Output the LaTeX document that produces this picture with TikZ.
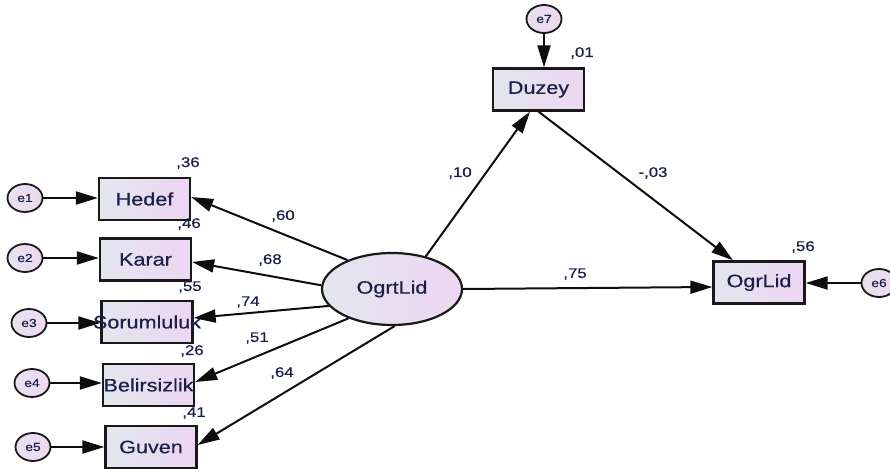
\documentclass[tikz,border=0pt]{standalone}
\usepackage{fontspec}
\setmainfont[FakeStretch=1.2,FakeBold=0.5]{Liberation Sans}
\usetikzlibrary{arrows.meta,shapes.geometric,calc}
\definecolor{ink}{HTML}{1A2048}
\definecolor{boxL}{HTML}{E3E6EE}
\definecolor{boxR}{HTML}{EDD6F2}
\definecolor{errL}{HTML}{E6E2EE}
\definecolor{errR}{HTML}{EED8F2}
\tikzset{
  obs/.style={draw=black!90, line width=2.3pt, minimum width=91pt, minimum height=42pt,
    inner sep=0pt, left color=boxL, right color=boxR},
  lat/.style={ellipse, draw=black!90, line width=2.2pt, minimum width=140pt, minimum height=72pt,
    inner sep=0pt, left color=boxL, right color=boxR, text=ink,
    font=\fontsize{18}{20}\selectfont},
  err/.style={ellipse, draw=black!90, line width=1.8pt, minimum width=35pt, minimum height=28pt,
    inner sep=0pt, left color=errL, right color=errR, text=ink,
    font=\fontsize{11.5}{12}\selectfont},
  regr/.style={line width=2pt, draw=black!95, -{Triangle[length=22pt,width=13pt]}},
  coef/.style={font=\fontsize{14}{16}\selectfont, text=ink, inner sep=0pt},
  boxlab/.style={font=\fontsize{18}{20}\selectfont, text=ink, inner sep=0pt}
}
\begin{document}
\begin{tikzpicture}[x=1pt,y=-1pt]
\useasboundingbox (0,0) rectangle (890,473);

% observed indicators
\node[obs, label={[boxlab]center:Hedef}]       (hedef) at (144.5,199) {};
\node[obs, label={[boxlab]center:Karar}]       (karar) at (145.5,259.5) {};
\node[obs, label={[boxlab]center:Sorumluluk}]  (sorum) at (147,322) {};
\node[obs, label={[boxlab]center:Belirsizlik}] (belir) at (148.5,385) {};
\node[obs, label={[boxlab]center:Guven}]       (guven) at (151,447) {};
\node[obs, label={[boxlab]center:Duzey}]       (duzey) at (538.5,89.5) {};
\node[obs, label={[boxlab]center:OgrLid}]      (ogrlid) at (759,282.5) {};

% latent variable
\node[lat] (ogrt) at (392,289) {OgrtLid};

% error terms
\node[err] (e1) at (25,198) {e1};
\node[err] (e2) at (25,258) {e2};
\node[err] (e3) at (29,323) {e3};
\node[err] (e4) at (32,383) {e4};
\node[err] (e5) at (33,447) {e5};
\node[err] (e6) at (879,283) {e6};
\node[err] (e7) at (544,19) {e7};

% error paths
\draw[regr] (e1) -- (e1 -| hedef.west);
\draw[regr] (e2) -- (e2 -| karar.west);
\draw[regr] (e3) -- (e3 -| sorum.west);
\draw[regr] (e4) -- (e4 -| belir.west);
\draw[regr] (e5) -- (e5 -| guven.west);
\draw[regr] (e6) -- (e6 -| ogrlid.east);
\draw[regr] (e7) -- (e7 |- duzey.north);

% loadings
\draw[regr] (ogrt.147) -- ([yshift=2pt]hedef.east);
\draw[regr] (ogrt.177) -- ([yshift=-2.5pt]karar.east);
\draw[regr] (ogrt.195) -- ([yshift=4pt]sorum.east);
\draw[regr] (ogrt.214) -- ([yshift=3pt]belir.east);
\draw[regr] (ogrt.274) -- ([yshift=2pt]guven.east);

% structural paths
\draw[regr] (ogrt.44) -- ([xshift=-8.5pt]duzey.south);
\draw[regr] (duzey.south) -- ([xshift=-26pt]ogrlid.north);
\draw[regr] (ogrt.east) -- ([yshift=-4.5pt]ogrlid.west);

% squared multiple correlations
\node[coef] (r1) at (188,163) {,36};
\node[coef] (r2) at (189,224) {,46};
\node[coef] (r3) at (190,287) {,55};
\node[coef] (r4) at (192,351) {,26};
\node[coef] (r5) at (194,413) {,41};
\node[coef] (r6) at (582,53) {,01};
\node[coef] (r7) at (803,247) {,56};

% path coefficients
\node[coef] (c1) at (283,216) {,60};
\node[coef] (c2) at (270,260) {,68};
\node[coef] (c3) at (248,302) {,74};
\node[coef] (c4) at (257,338) {,51};
\node[coef] (c5) at (282,373) {,64};
\node[coef] (c6) at (460,173) {,10};
\node[coef] (c7) at (653,173) {-,03};
\node[coef] (c8) at (575,274) {,75};
\end{tikzpicture}
\end{document}
